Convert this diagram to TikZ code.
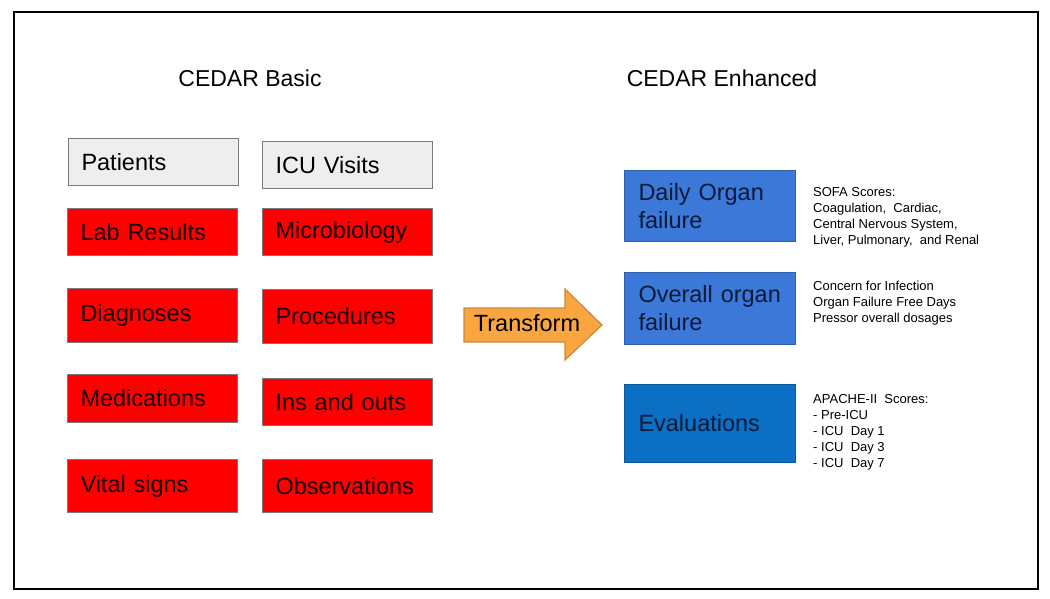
\documentclass[tikz,border=0pt]{standalone}
\usepackage{fontspec}
\setmainfont{Liberation Sans}
\definecolor{boxred}{HTML}{FF0000}
\definecolor{boxgray}{HTML}{EEEEEE}
\definecolor{edgegray}{HTML}{7A7A7A}
\definecolor{blueA}{HTML}{3C78D8}
\definecolor{blueB}{HTML}{0B6FC4}
\definecolor{navytext}{HTML}{0A1A3A}
\definecolor{orangefill}{HTML}{F9A640}
\definecolor{orangeedge}{HTML}{C98A38}
\tikzset{
  basebox/.style={draw=edgegray, line width=1pt, minimum width=170pt, text width=144pt, inner xsep=13pt, inner ysep=0pt, align=left, font=\fontsize{23.5}{28}\selectfont, anchor=north west},
  redbox/.style={basebox, fill=boxred, text=black!90!red},
  graybox/.style={basebox, fill=boxgray, text=black},
  bluebox/.style={basebox, draw=blueA!80!black, minimum width=171pt, text width=143pt, inner xsep=14pt, text=navytext},
  heading/.style={font=\fontsize{23}{26}\selectfont, text=black},
  note/.style={font=\fontsize{13}{16}\selectfont, align=left, anchor=west, inner sep=0pt, text=black},
  bigarrow/.style={draw=orangeedge, line width=1.2pt, fill=orangefill, line join=miter}
}
\begin{document}
\begin{tikzpicture}[x=1pt,y=-1pt]
\useasboundingbox (0,0) rectangle (1050,599);
\node[draw=black, line width=2pt, minimum width=1024pt, minimum height=577pt, anchor=north west, inner sep=0pt] (frame) at (13,11) {};

\node[heading] (basic) at (250,78) {CEDAR Basic};
\node[heading] (enh) at (722,78) {CEDAR Enhanced};

\node[graybox, minimum height=47pt] (patients) at (68,138) {Patients};
\node[graybox, minimum height=47pt] (icu) at (262,141) {ICU Visits};
\node[redbox, minimum height=47pt] (lab) at (67,208) {Lab Results};
\node[redbox, minimum height=47pt] (micro) at (262,208) {Microbiology};
\node[redbox, minimum height=54pt] (diag) at (67,288) {Diagnoses};
\node[redbox, minimum height=54pt] (proc) at (262,289) {Procedures};
\node[redbox, minimum height=48pt] (meds) at (67,374) {Medications};
\node[redbox, minimum height=47pt] (ins) at (262,378) {Ins and outs};
\node[redbox, minimum height=53pt] (vital) at (67,459) {Vital signs};
\node[redbox, minimum height=53pt] (obs) at (262,459) {Observations};

\draw[bigarrow] (464,308) -- (565,308) -- (565,289) -- (602,325) -- (565,360) -- (565,342) -- (464,342) -- cycle;
\node[font=\fontsize{23.5}{26}\selectfont, text=black, inner sep=0pt] (transform) at (527,323) {Transform};

\node[bluebox, fill=blueA, minimum height=71pt] (daily) at (624,170) {Daily Organ\\failure};
\node[bluebox, fill=blueA, minimum height=72pt] (overall) at (624,272) {Overall organ\\failure};
\node[bluebox, fill=blueB, draw=blueB!80!black, minimum height=78pt] (eval) at (624,384) {Evaluations};

\node[note] (sofa) at (813,217) {SOFA Scores:\\Coagulation,\ \ Cardiac,\\Central Nervous System,\\Liver, Pulmonary,\ \ and Renal};
\node[note] (concern) at (813,303) {Concern for Infection\\Organ Failure Free Days\\Pressor overall dosages};
\node[note] (apache) at (813,432) {APACHE-II\ \ Scores:\\- Pre-ICU\\- ICU\ \ Day 1\\- ICU\ \ Day 3\\- ICU\ \ Day 7};
\end{tikzpicture}
\end{document}
